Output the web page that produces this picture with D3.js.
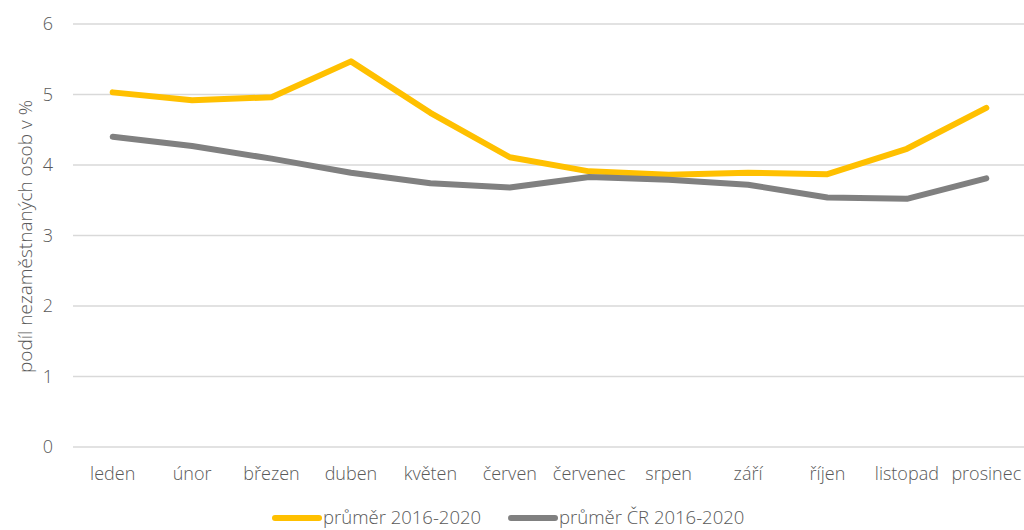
<!DOCTYPE html>
<html>
<head>
<meta charset="utf-8">
<script src="https://cdn.jsdelivr.net/npm/d3@7"></script>
<style>
  body { margin: 0; background: #fff; }
  text { font-family: "Open Sans", sans-serif; font-weight: 300; fill: #595959; }
</style>
</head>
<body>
<div id="chart"></div>
<script>
var months = ["leden", "únor", "březen", "duben", "květen", "červen", "červenec", "srpen", "září", "říjen", "listopad", "prosinec"];
var regionAvg = [5.03, 4.92, 4.96, 5.47, 4.74, 4.11, 3.91, 3.86, 3.89, 3.87, 4.23, 4.81];
var czAvg = [4.40, 4.27, 4.09, 3.89, 3.74, 3.68, 3.83, 3.79, 3.72, 3.54, 3.52, 3.81];
var yTicks = [0, 1, 2, 3, 4, 5, 6];
var seriesNames = ["průměr 2016-2020", "průměr ČR 2016-2020"];
var seriesColors = ["#ffc000", "#808080"];

var width = 1024, height = 530;
var margin = {left: 73, right: -2, top: 24, bottom: 83};

var svg = d3.select("#chart").append("svg")
    .attr("width", width)
    .attr("height", height);

var x = d3.scalePoint()
    .domain(months)
    .range([margin.left, width - margin.right])
    .padding(0.5);

var y = d3.scaleLinear()
    .domain([0, 6])
    .range([height - margin.bottom, margin.top]);

// gridlines
svg.append("g")
    .selectAll("line")
    .data(yTicks)
    .enter().append("line")
    .attr("x1", margin.left)
    .attr("x2", width - margin.right)
    .attr("y1", function (d) { return y(d); })
    .attr("y2", function (d) { return y(d); })
    .attr("stroke", "#d9d9d9")
    .attr("stroke-width", 1.3);

// y tick labels
svg.append("g")
    .selectAll("text")
    .data(yTicks)
    .enter().append("text")
    .attr("x", 53)
    .attr("y", function (d) { return y(d); })
    .attr("dy", "0.35em")
    .attr("text-anchor", "end")
    .attr("font-size", "18px")
    .text(function (d) { return d; });

// x labels
svg.append("g")
    .selectAll("text")
    .data(months)
    .enter().append("text")
    .attr("x", function (d) { return x(d); })
    .attr("y", 480)
    .attr("text-anchor", "middle")
    .attr("font-size", "18px")
    .text(function (d) { return d; });

// y axis title
svg.append("text")
    .attr("transform", "translate(32," + (y(3) + 1) + ")rotate(-90)")
    .attr("text-anchor", "middle")
    .attr("font-size", "19px")
    .text("podíl nezaměstnaných osob v %");

var line = d3.line()
    .x(function (d, i) { return x(months[i]); })
    .y(function (d) { return y(d); });

var allSeries = [regionAvg, czAvg];
svg.append("g")
    .selectAll("path")
    .data(allSeries)
    .enter().append("path")
    .attr("d", line)
    .attr("fill", "none")
    .attr("stroke", function (d, i) { return seriesColors[i]; })
    .attr("stroke-width", 6)
    .attr("stroke-linecap", "round")
    .attr("stroke-linejoin", "round");

// legend
var legendX = [275, 511];
var lg = svg.append("g")
    .selectAll("g")
    .data(seriesNames)
    .enter().append("g")
    .attr("transform", function (d, i) { return "translate(" + legendX[i] + ",518)"; });

lg.append("line")
    .attr("x1", 0)
    .attr("x2", 44)
    .attr("stroke", function (d, i) { return seriesColors[i]; })
    .attr("stroke-width", 6)
    .attr("stroke-linecap", "round");

lg.append("text")
    .attr("x", 48)
    .attr("dy", "0.3em")
    .attr("font-size", "18.5px")
    .text(function (d) { return d; });
</script>
</body>
</html>
